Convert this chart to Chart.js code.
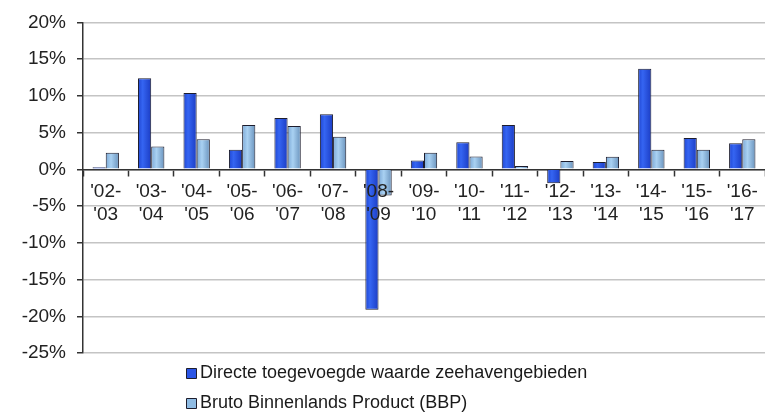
<!DOCTYPE html>
<html>
<head>
<meta charset="utf-8">
<script src="https://cdn.jsdelivr.net/npm/chart.js@4/dist/chart.umd.min.js"></script>
<style>
  html, body { margin: 0; padding: 0; background: #ffffff; }
  #wrap { width: 765px; height: 412px; position: relative; }
</style>
</head>
<body>
<div id="wrap"><canvas id="grafiek"></canvas></div>
<script>
// jaren (twee regels per label)
var jaren = [
    ["'02-", "'03"], ["'03-", "'04"], ["'04-", "'05"], ["'05-", "'06"], ["'06-", "'07"],
    ["'07-", "'08"], ["'08-", "'09"], ["'09-", "'10"], ["'10-", "'11"], ["'11-", "'12"],
    ["'12-", "'13"], ["'13-", "'14"], ["'14-", "'15"], ["'15-", "'16"], ["'16-", "'17"]
];

// groei directe toegevoegde waarde zeehavengebieden (%)
var zeehavens = [0.3, 12.4, 10.4, 2.65, 7.0, 7.5, -19.1, 1.2, 3.7, 6.05, -1.9, 1.0, 13.7, 4.25, 3.55];

// groei bbp (%)
var bbp = [2.25, 3.1, 4.1, 6.05, 5.9, 4.45, -3.55, 2.25, 1.75, 0.45, 1.15, 1.7, 2.65, 2.65, 4.1];

var reeksNamen = ['Directe toegevoegde waarde zeehavengebieden', 'Bruto Binnenlands Product (BBP)'];

var yTicks = [20, 15, 10, 5, 0, -5, -10, -15, -20, -25];

var CAT_PCT = 0.58;
var BAR_PCT = 1.0;
var FONT = '"Liberation Sans", Arial, sans-serif';

// kleurverloop per staaf, berekend uit de x-schaal
function verloop(stops, vlak) {
    return function (context) {
        var chart = context.chart;
        var xs = chart.scales.x;
        if (!chart.chartArea || !xs || context.dataIndex === undefined) {
            return vlak;
        }
        var midden = xs.getPixelForValue(context.dataIndex);
        var catW = xs.width / jaren.length;
        var bw = catW * CAT_PCT * BAR_PCT / 2;
        var links = context.datasetIndex === 0 ? midden - bw : midden;
        var g = chart.ctx.createLinearGradient(links, 0, links + bw, 0);
        stops.forEach(function (s) { g.addColorStop(s[0], s[1]); });
        return g;
    };
}

// legenda onder de grafiek, in een kolom
var legendaPlugin = {
    id: 'legendaKolom',
    afterDraw: function (chart) {
        var ctx = chart.ctx;
        var items = [
            { y: 373, kleur: '#2a55e6' },
            { y: 403, kleur: '#8fbce4' }
        ];
        ctx.save();
        ctx.font = '18px ' + FONT;
        ctx.textBaseline = 'middle';
        chart.data.datasets.forEach(function (ds, i) {
            var it = items[i];
            ctx.beginPath();
            ctx.rect(186.5, it.y - 4.5, 10, 10);
            ctx.fillStyle = it.kleur;
            ctx.fill();
            ctx.strokeStyle = '#1d1d2d';
            ctx.lineWidth = 1;
            ctx.stroke();
            ctx.fillStyle = '#1a1a1a';
            ctx.fillText(ds.label, 200, it.y);
        });
        ctx.restore();
    }
};

new Chart(document.getElementById('grafiek').getContext('2d'), {
    type: 'bar',
    data: {
        labels: jaren,
        datasets: [{
            label: reeksNamen[0],
            data: zeehavens,
            backgroundColor: verloop([[0, '#1f46d2'], [0.35, '#3565f2'], [1, '#1b3cc4']], '#2a55e6'),
            borderColor: '#1d1d2d',
            borderWidth: 1,
            categoryPercentage: CAT_PCT,
            barPercentage: BAR_PCT
        }, {
            label: reeksNamen[1],
            data: bbp,
            backgroundColor: verloop([[0, '#7ba8d6'], [0.4, '#a9d1f2'], [1, '#6a93bd']], '#8fbce4'),
            borderColor: '#1d1d2d',
            borderWidth: 1,
            categoryPercentage: CAT_PCT,
            barPercentage: BAR_PCT
        }]
    },
    options: {
        responsive: true,
        maintainAspectRatio: false,
        animation: false,
        layout: {
            padding: { top: 19, bottom: 59, left: 0, right: 0 }
        },
        plugins: {
            legend: { display: false },
            tooltip: { enabled: false }
        },
        scales: {
            x: {
                position: { y: 0 },
                offset: true,
                grid: {
                    offset: true,
                    drawOnChartArea: false,
                    drawTicks: true,
                    tickLength: 6,
                    tickColor: '#333333',
                    tickWidth: 1.5
                },
                border: { color: '#333333', width: 1.5 },
                ticks: {
                    z: 1,
                    padding: 5,
                    maxRotation: 0,
                    autoSkip: false,
                    color: '#222222',
                    font: { family: FONT, size: 19, lineHeight: 1.22 }
                }
            },
            y: {
                position: 'left',
                min: -25,
                max: 20,
                afterFit: function (scale) { scale.width = 83; },
                afterBuildTicks: function (scale) {
                    scale.ticks = yTicks.map(function (v) { return { value: v }; });
                },
                grid: {
                    color: '#c4c4c4',
                    lineWidth: 1.5,
                    tickLength: 6,
                    tickColor: '#333333'
                },
                border: { color: '#333333', width: 1.5 },
                ticks: {
                    padding: 11,
                    color: '#222222',
                    font: { family: FONT, size: 19 },
                    callback: function (v) { return v + '%'; }
                }
            }
        }
    },
    plugins: [legendaPlugin]
});
</script>
</body>
</html>
